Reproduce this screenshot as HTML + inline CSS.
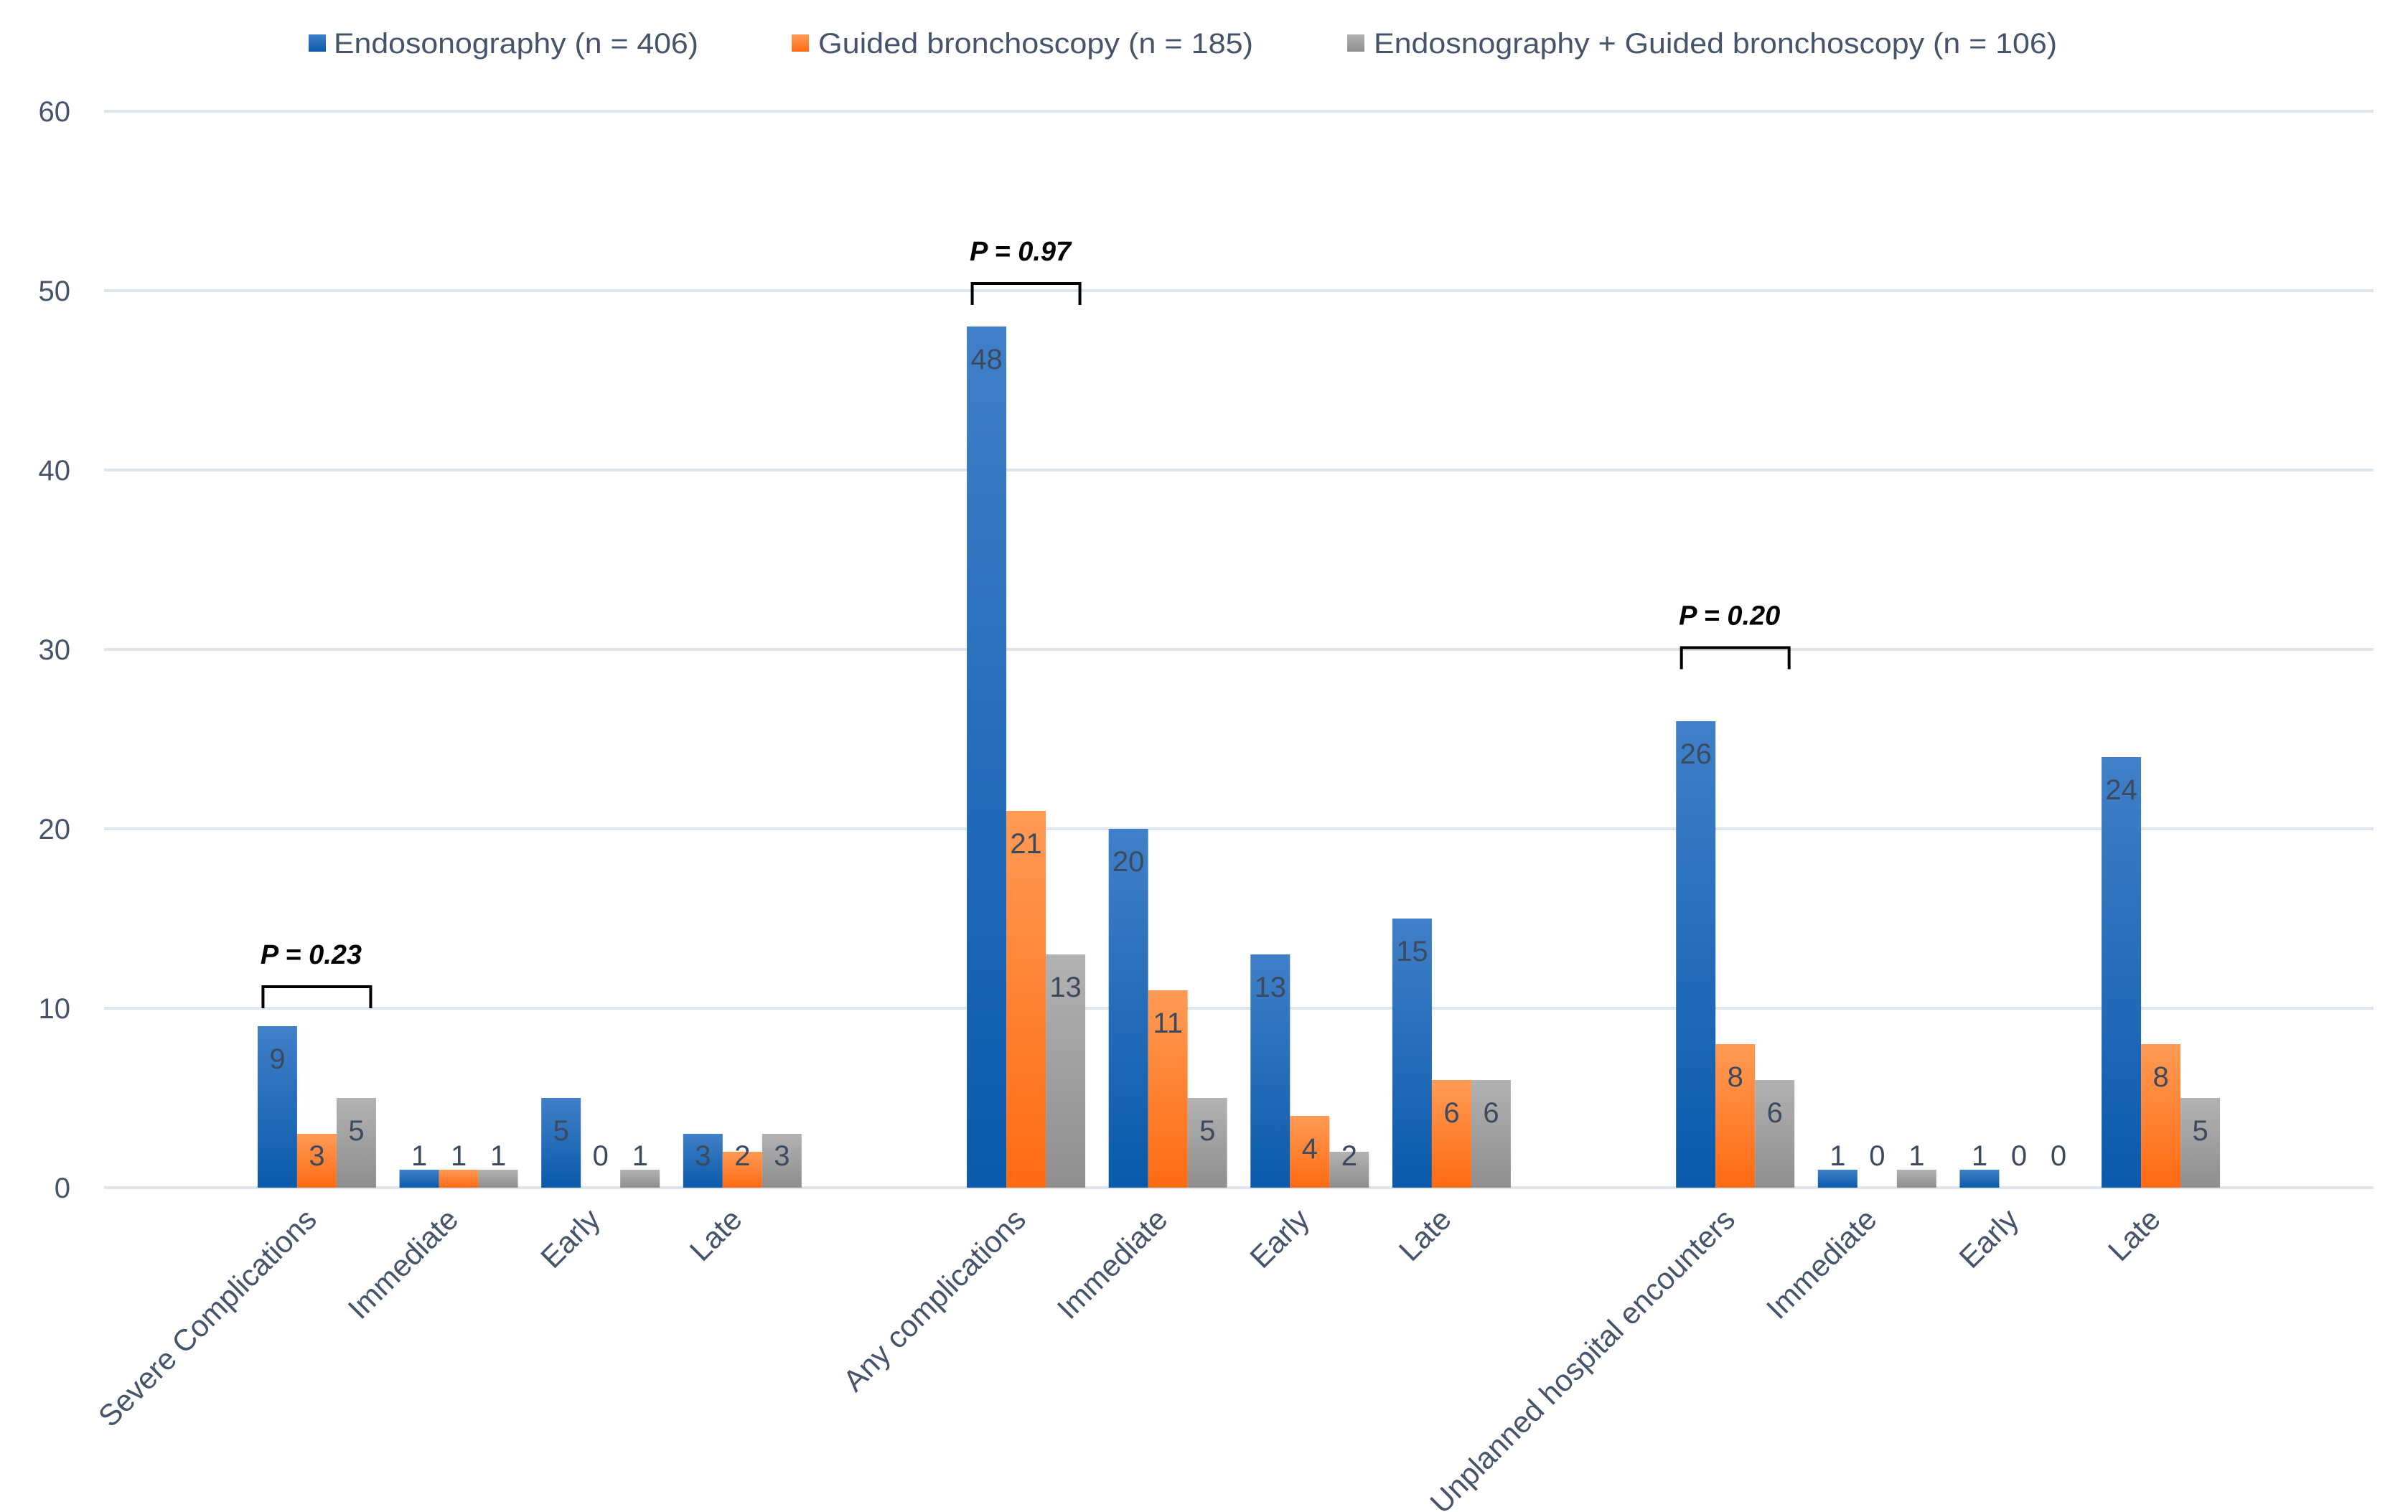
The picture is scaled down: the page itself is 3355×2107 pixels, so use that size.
<!DOCTYPE html>
<html><head><meta charset="utf-8"><style>
html,body{margin:0;padding:0;background:#fff;}
svg{display:block;font-family:"Liberation Sans",sans-serif;}
</style></head><body>
<svg id="chart" width="3355" height="2107" viewBox="0 0 3355 2107" xmlns="http://www.w3.org/2000/svg">
<defs>
<linearGradient id="gBlue" x1="0" y1="0" x2="0" y2="1"><stop offset="0" stop-color="#4080c8"/><stop offset="1" stop-color="#0a5aab"/></linearGradient>
<linearGradient id="gOrange" x1="0" y1="0" x2="0" y2="1"><stop offset="0" stop-color="#ff9b55"/><stop offset="1" stop-color="#ff6a12"/></linearGradient>
<linearGradient id="gGray" x1="0" y1="0" x2="0" y2="1"><stop offset="0" stop-color="#b2b2b2"/><stop offset="1" stop-color="#8e8e8e"/></linearGradient>
</defs>
<g id="legend">
<g><rect x="430" y="48" width="24" height="24" fill="url(#gBlue)"/><text x="465" y="74" font-size="40" fill="#44546a" textLength="508" lengthAdjust="spacingAndGlyphs">Endosonography (n = 406)</text></g>
<g><rect x="1103" y="48" width="24" height="24" fill="url(#gOrange)"/><text x="1140" y="74" font-size="40" fill="#44546a" textLength="606" lengthAdjust="spacingAndGlyphs">Guided bronchoscopy (n = 185)</text></g>
<g><rect x="1877" y="48" width="24" height="24" fill="url(#gGray)"/><text x="1914" y="74" font-size="40" fill="#44546a" textLength="952" lengthAdjust="spacingAndGlyphs">Endosnography + Guided bronchoscopy (n = 106)</text></g>
</g>
<g id="grid"></g>
<g id="bars"></g>
<g id="labels"></g>
<g id="annot"></g>
</svg>
<script>
const categories = ["", "Severe Complications", "Immediate", "Early", "Late", "", "Any complications", "Immediate", "Early", "Late", "", "Unplanned hospital encounters", "Immediate", "Early", "Late", ""];
const endoValues =   [null, 9, 1, 5, 3, null, 48, 20, 13, 15, null, 26, 1, 1, 24, null];
const guidedValues = [null, 3, 1, 0, 2, null, 21, 11, 4, 6, null, 8, 0, 0, 8, null];
const comboValues =  [null, 5, 1, 1, 3, null, 13, 5, 2, 6, null, 6, 1, 0, 5, null];
const yTicks = [0, 10, 20, 30, 40, 50, 60];
const pLabels = ["P = 0.23", "P = 0.97", "P = 0.20"];
const pCategoryIndex = [1, 6, 11];
const pLevels = [11.2, 50.4, 30.1];

const NS = "http://www.w3.org/2000/svg";
const X0 = 145, X1 = 3307, Y0 = 1655, PX_PER_UNIT = 25;
const slot = (X1 - X0) / categories.length;
const BW = 55;
function xCenter(i){ return X0 + (i + 0.5) * slot; }
function yPos(v){ return Y0 - v * PX_PER_UNIT; }
function mk(tag, attrs, parent){ const e = document.createElementNS(NS, tag); for (const k in attrs) e.setAttribute(k, attrs[k]); parent.appendChild(e); return e; }

const grid = document.getElementById('grid');
yTicks.forEach(t => {
  const l = mk('line', {x1: X0, x2: X1, y1: yPos(t), y2: yPos(t), stroke: '#dde6ee', 'stroke-width': 4}, grid);
  
  
  const tx = mk('text', {x: 98, y: yPos(t) + 14, 'font-size': 40, fill: '#44546a', 'text-anchor': 'end'}, grid);
  tx.textContent = t;
  
  
});

const bars = document.getElementById('bars');
const series = [[endoValues, 'url(#gBlue)', 'endosonography'], [guidedValues, 'url(#gOrange)', 'guided'], [comboValues, 'url(#gGray)', 'combined']];
series.forEach((s, si) => {
  s[0].forEach((v, i) => {
    if (v === null) return;
    const x = xCenter(i) + (si - 1) * BW - BW / 2;
    if (v > 0) {
      const r = mk('rect', {x: x, y: yPos(v), width: BW, height: v * PX_PER_UNIT, fill: s[1]}, bars);
      
      
    }
    const ly = Math.min(yPos(v) + 45, Y0 - 45) + 14;
    const t = mk('text', {x: x + BW / 2, y: ly, 'font-size': 40, fill: '#3b4a5e', 'text-anchor': 'middle'}, bars);
    t.textContent = v;
    
    
  });
});

const labels = document.getElementById('labels');
categories.forEach((c, i) => {
  if (!c) return;
  const ax = xCenter(i) + 2, ay = 1702;
  const t = mk('text', {x: ax, y: ay, 'font-size': 42, fill: '#44546a', 'text-anchor': 'end', transform: 'rotate(-45 ' + ax + ' ' + ay + ')'}, labels);
  t.textContent = c;
  
  
});

const annot = document.getElementById('annot');
pLabels.forEach((p, k) => {
  const cx = xCenter(pCategoryIndex[k]);
  const y = yPos(pLevels[k]);
  const xl = cx - 75, xr = cx + 75;
  const b = mk('path', {d: 'M' + xl + ' ' + (y + 30) + ' V' + y + ' H' + xr + ' V' + (y + 30), fill: 'none', stroke: '#000', 'stroke-width': 4}, annot);
  
  
  const t = mk('text', {x: cx - 8, y: y - 32, 'font-size': 38, 'font-style': 'italic', 'font-weight': 'bold', fill: '#000', 'text-anchor': 'middle'}, annot);
  t.textContent = p;
  
  
});
</script>
</body></html>
